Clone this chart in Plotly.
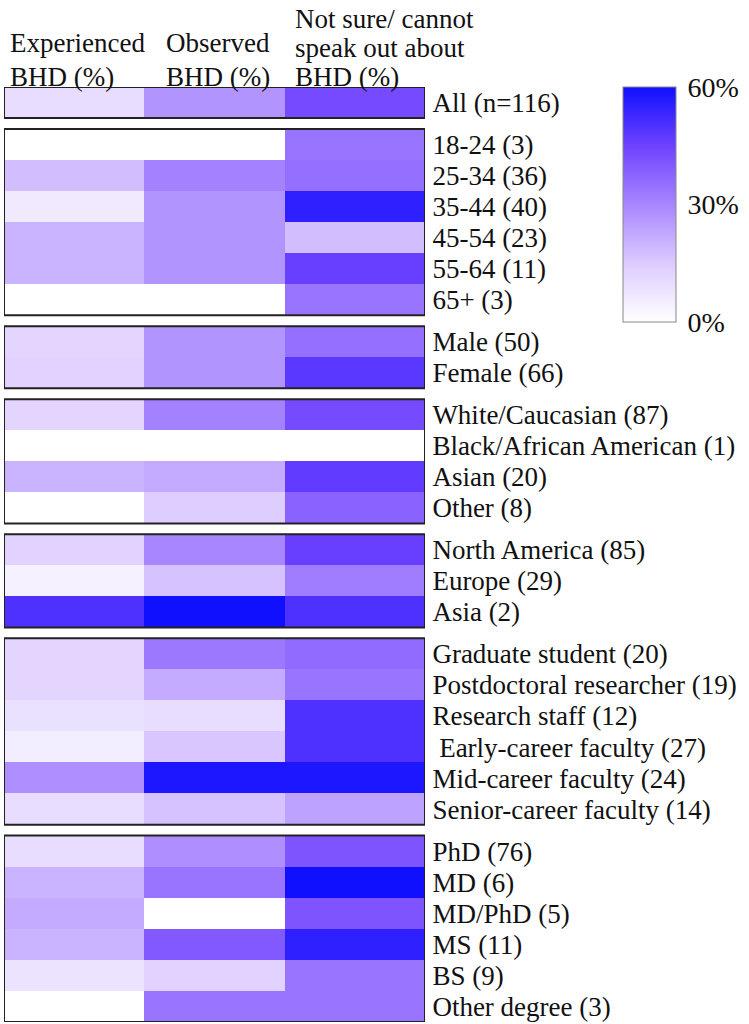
import plotly.graph_objects as go

# column headers (left to right), one entry per text line
columns = [
    ["Experienced", "BHD (%)"],
    ["Observed", "BHD (%)"],
    ["Not sure/ cannot", "speak out about", "BHD (%)"],
]

# rows, top to bottom, split into boxed groups
group_sizes = [1, 6, 2, 4, 3, 6, 6]
row_labels = [
    "All (n=116)",
    "18-24 (3)", "25-34 (36)", "35-44 (40)", "45-54 (23)", "55-64 (11)", "65+ (3)",
    "Male (50)", "Female (66)",
    "White/Caucasian (87)", "Black/African American (1)", "Asian (20)", "Other (8)",
    "North America (85)", "Europe (29)", "Asia (2)",
    "Graduate student (20)", "Postdoctoral researcher (19)", "Research staff (12)",
    " Early-career faculty (27)", "Mid-career faculty (24)", "Senior-career faculty (14)",
    "PhD (76)", "MD (6)", "MD/PhD (5)", "MS (11)", "BS (9)", "Other degree (3)",
]

# percentages
experienced = [10,
               0, 18, 6, 20, 20, 0,
               12, 13,
               12, 0, 20, 0,
               13, 4, 50,
               12, 12, 9, 5, 28, 10,
               10, 20, 22, 20, 8, 0]
observed = [27,
            0, 31, 27, 27, 27, 0,
            27, 27,
            31, 0, 22, 14,
            30, 17, 60,
            33, 22, 10, 16, 58, 17,
            28, 34, 0, 40, 13, 34]
not_sure = [43,
            34, 35, 55, 18, 46, 34,
            35, 48,
            43, 0, 47, 38,
            46, 32, 50,
            36, 34, 50, 50, 58, 24,
            41, 60, 41, 55, 34, 34]

GAP = 0.35
FONT = "Liberation Serif"
HEADER_XSHIFT = [4, 20, 8]

fig = go.Figure()
tickvals = []
start = 0
for gi, size in enumerate(group_sizes):
    top = start + gi * GAP
    rows = range(start, start + size)
    z = [[experienced[i], observed[i], not_sure[i]] for i in rows]
    y_edges = [top - 0.5 + k for k in range(size + 1)]
    fig.add_trace(go.Heatmap(
        z=z, x=[-0.5, 0.5, 1.5, 2.5], y=y_edges,
        coloraxis="coloraxis", hoverinfo="skip",
    ))
    tickvals += [top + k for k in range(size)]
    fig.add_shape(type="rect", xref="x", yref="y",
                  x0=-0.5, x1=2.5, y0=top - 0.5, y1=top + size - 0.5,
                  line=dict(color="#222222", width=2))
    start += size

# header lines stacked upward from the top of the plot
for ci, lines in enumerate(columns):
    step = 34 if len(lines) < 3 else 29
    for li, line in enumerate(reversed(lines)):
        fig.add_annotation(x=ci - 0.5, y=1, xref="x", yref="paper",
                           xanchor="left", yanchor="bottom", align="left",
                           text=line, showarrow=False,
                           xshift=HEADER_XSHIFT[ci], yshift=-7 + li * step,
                           font=dict(family=FONT, size=27, color="#111111"))

bottom = tickvals[-1] + 0.5
fig.update_layout(
    width=749, height=1024,
    margin=dict(l=4, r=324, t=87, b=2, autoexpand=False),
    paper_bgcolor="white", plot_bgcolor="white",
    font=dict(family=FONT, color="#111111"),
    coloraxis=dict(
        cmin=0, cmax=60,
        colorscale=[[0, "#ffffff"], [0.25, "#dccbff"], [0.5, "#a886ff"],
                    [0.75, "#6e42ff"], [1, "#1010ff"]],
        colorbar=dict(
            x=1.47, xanchor="left", y=1.0, yanchor="top",
            xpad=0, ypad=0,
            thickness=53, len=235, lenmode="pixels",
            outlinewidth=1, outlinecolor="#888888",
            tickvals=[0, 30, 60], ticktext=["0%", "30%", "60%"],
            ticks="outside", ticklen=6, tickcolor="rgba(0,0,0,0)",
            tickfont=dict(family=FONT, size=28, color="#111111"),
        ),
    ),
    xaxis=dict(range=[-0.5, 2.5], visible=False, fixedrange=True),
    yaxis=dict(
        range=[bottom, -0.5], side="right", automargin=False,
        tickvals=tickvals, ticktext=row_labels,
        ticks="outside", ticklen=1, tickcolor="rgba(0,0,0,0)",
        tickfont=dict(family=FONT, size=27, color="#111111"),
        showgrid=False, zeroline=False, showline=False, fixedrange=True,
    ),
)

# page body has a default 8px margin; drop it so the figure fills the window
fig.write_html("out.html", config={"displayModeBar": False},
               post_script="document.body.style.margin='0';")
